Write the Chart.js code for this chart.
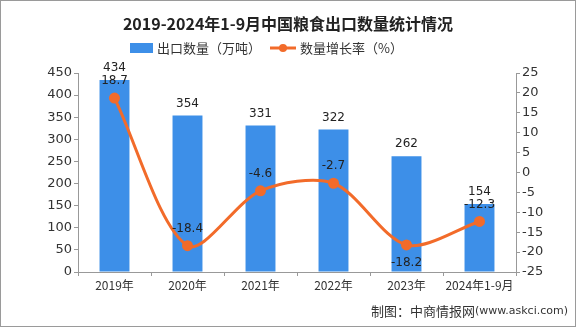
<!DOCTYPE html>
<html>
<head>
<meta charset="utf-8">
<script src="https://cdn.jsdelivr.net/npm/chart.js@4"></script>
<style>
  html, body { margin: 0; padding: 0; background: #fff; }
  #wrap { width: 576px; height: 327px; }
</style>
</head>
<body>
<div id="wrap"><canvas id="grainChart" width="576" height="327"></canvas></div>
<script>
const years = ['2019年', '2020年', '2021年', '2022年', '2023年', '2024年1-9月'];
const exportVolume = [434, 354, 331, 322, 262, 154];
const growthRate = [18.7, -18.4, -4.6, -2.7, -18.2, -12.3];
const leftTicks = [0, 50, 100, 150, 200, 250, 300, 350, 400, 450];
const rightTicks = [-25, -20, -15, -10, -5, 0, 5, 10, 15, 20, 25];

const BLUE = '#3d8fe8';
const ORANGE = '#f26b2a';
const CJK = '"Noto Sans CJK SC", "Noto Sans", sans-serif';
const NUM = '"DejaVu Sans", sans-serif';

// title, legend, value labels, footer and frame
const decorations = {
    id: 'decorations',
    afterDatasetsDraw(chart) {
        const c = chart.ctx;
        c.save();

        c.fillStyle = '#222';
        c.font = 'bold 16px ' + CJK;
        c.textAlign = 'center';
        c.textBaseline = 'middle';
        c.fillText('2019-2024年1-9月中国粮食出口数量统计情况', 288, 24);

        // legend
        c.font = '13px ' + CJK;
        c.textAlign = 'left';
        c.fillStyle = BLUE;
        c.fillRect(130, 43, 23, 10);
        c.fillStyle = '#333';
        c.fillText('出口数量（万吨）', 157, 48);
        c.strokeStyle = ORANGE;
        c.lineWidth = 3;
        c.beginPath(); c.moveTo(270, 48); c.lineTo(296, 48); c.stroke();
        c.fillStyle = ORANGE;
        c.beginPath(); c.arc(283, 48, 4, 0, Math.PI * 2); c.fill();
        c.fillStyle = '#333';
        c.fillText('数量增长率（%）', 300, 48);

        // value labels: dataset 0 is the line, dataset 1 the bars
        c.font = '12px ' + NUM;
        c.textAlign = 'center';
        c.textBaseline = 'bottom';
        c.fillStyle = '#222';
        chart.getDatasetMeta(1).data.forEach((bar, i) => {
            c.fillText(exportVolume[i], bar.x, bar.y - 6);
        });
        chart.getDatasetMeta(0).data.forEach((pt, i) => {
            const v = growthRate[i].toFixed(1);
            if (i === 4) {
                c.textBaseline = 'top';
                c.fillText(v, pt.x, pt.y + 12);
                c.textBaseline = 'bottom';
            } else {
                c.fillText(v, pt.x, pt.y - 11);
            }
        });

        // footer
        c.textAlign = 'right';
        c.textBaseline = 'middle';
        const tail = '(www.askci.com)';
        c.font = '11px ' + NUM;
        const tw = c.measureText(tail).width;
        c.fillStyle = '#333';
        c.fillText(tail, 568, 311);
        c.font = '13px ' + CJK;
        c.fillText('制图：中商情报网', 568 - tw, 311);

        c.strokeStyle = '#9a9a9a';
        c.lineWidth = 1;
        c.strokeRect(0.5, 0.5, 575, 326);
        c.restore();
    }
};

new Chart(document.getElementById('grainChart'), {
    data: {
        labels: years,
        datasets: [
            {
                type: 'line',
                data: growthRate,
                yAxisID: 'yRight',
                borderColor: ORANGE,
                backgroundColor: ORANGE,
                borderWidth: 3,
                pointRadius: 4,
                pointHoverRadius: 4,
                tension: 0.3,
                order: 0
            },
            {
                type: 'bar',
                data: exportVolume,
                yAxisID: 'yLeft',
                backgroundColor: BLUE,
                categoryPercentage: 1,
                barPercentage: 0.41,
                order: 1
            }
        ]
    },
    options: {
        responsive: false,
        animation: false,
        layout: { padding: { top: 73, bottom: 25, left: 0, right: 0 } },
        plugins: { legend: { display: false }, tooltip: { enabled: false } },
        scales: {
            x: {
                offset: true,
                grid: { offset: true, drawOnChartArea: false, tickLength: 4, color: '#999' },
                border: { color: '#999' },
                ticks: { color: '#333', font: { family: CJK, size: 12 }, padding: 2, maxRotation: 0 },
                afterFit(s) { s.height = 30; }
            },
            yLeft: {
                position: 'left',
                min: 0, max: 450,
                afterBuildTicks(s) { s.ticks = leftTicks.map(v => ({ value: v })); },
                grid: { drawOnChartArea: false, tickLength: 4, color: '#999' },
                border: { color: '#999' },
                ticks: { color: '#333', font: { family: NUM, size: 13 }, padding: 2 },
                afterFit(s) { s.width = 78; }
            },
            yRight: {
                position: 'right',
                min: -25, max: 25,
                afterBuildTicks(s) { s.ticks = rightTicks.map(v => ({ value: v })); },
                grid: { drawOnChartArea: false, tickLength: 4, color: '#999' },
                border: { color: '#999' },
                ticks: { color: '#333', font: { family: NUM, size: 13 }, padding: 2 },
                afterFit(s) { s.width = 60; }
            }
        }
    },
    plugins: [decorations]
});
</script>
</body>
</html>
